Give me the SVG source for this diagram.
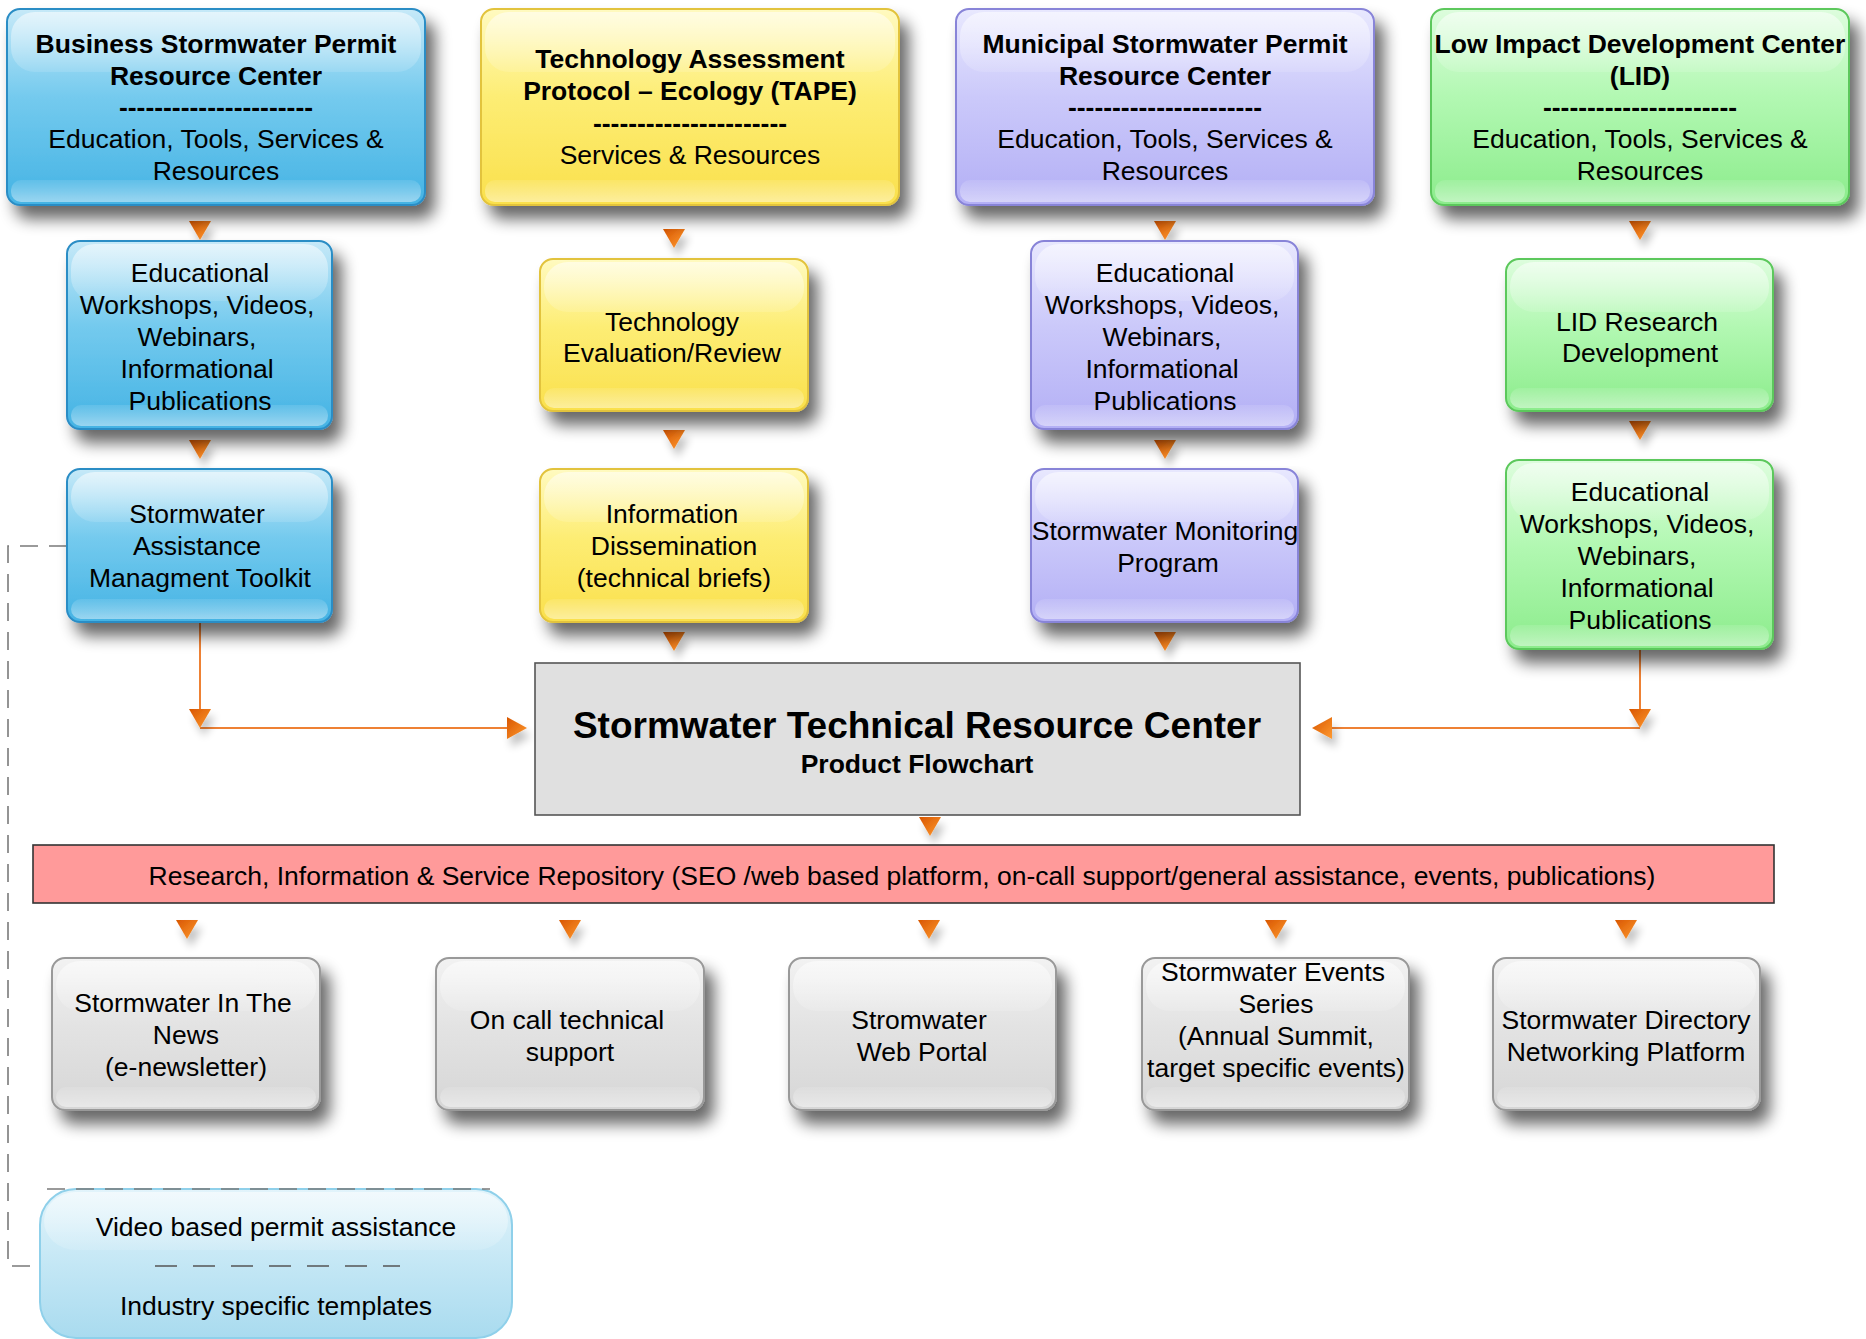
<svg xmlns="http://www.w3.org/2000/svg" xmlns:xlink="http://www.w3.org/1999/xlink" width="1866" height="1339" viewBox="0 0 1866 1339">
<defs>
<style>
.t{font-family:"Liberation Sans",Arial,sans-serif;font-size:26.5px;text-anchor:middle;fill:#000}
.b{font-weight:bold}
.blue{fill:url(#gBlue);stroke:#2C8DC5;stroke-width:2}
.yel{fill:url(#gYel);stroke:#E2C33C;stroke-width:2}
.pur{fill:url(#gPur);stroke:#8884D8;stroke-width:2}
.grn{fill:url(#gGrn);stroke:#5CC85C;stroke-width:2}
.gry{fill:url(#gGry);stroke:#999;stroke-width:2}
.lb{fill:url(#gLb);stroke:#8FD0EA;stroke-width:2}
.gl{fill:url(#gGloss)}
.bd{fill:url(#gBand)}
.con{fill:none;stroke:#EE8134;stroke-width:2}
.dash{fill:none;stroke:#7A7A7A;stroke-width:1.6;stroke-dasharray:18 11}
.ah{fill:url(#gArr)}
</style>
<linearGradient id="gBlue" x1="0" y1="0" x2="0" y2="1"><stop offset="0" stop-color="#C6E9F8"/><stop offset="0.45" stop-color="#74CAEE"/><stop offset="1" stop-color="#44B3E4"/></linearGradient>
<linearGradient id="gYel" x1="0" y1="0" x2="0" y2="1"><stop offset="0" stop-color="#FFFAC0"/><stop offset="0.45" stop-color="#FDED74"/><stop offset="1" stop-color="#FAE04C"/></linearGradient>
<linearGradient id="gPur" x1="0" y1="0" x2="0" y2="1"><stop offset="0" stop-color="#E8E8FE"/><stop offset="0.45" stop-color="#CBC9FA"/><stop offset="1" stop-color="#B3AFF5"/></linearGradient>
<linearGradient id="gGrn" x1="0" y1="0" x2="0" y2="1"><stop offset="0" stop-color="#DDFDDD"/><stop offset="0.45" stop-color="#B2F8B2"/><stop offset="1" stop-color="#8CEC8C"/></linearGradient>
<linearGradient id="gGry" x1="0" y1="0" x2="0" y2="1"><stop offset="0" stop-color="#F2F2F2"/><stop offset="0.45" stop-color="#E3E3E3"/><stop offset="1" stop-color="#D6D6D6"/></linearGradient>
<linearGradient id="gLb" x1="0" y1="0" x2="0" y2="1"><stop offset="0" stop-color="#E2F4FB"/><stop offset="0.5" stop-color="#C4E7F5"/><stop offset="1" stop-color="#A9DBEF"/></linearGradient>
<linearGradient id="gGloss" x1="0" y1="0" x2="0" y2="1"><stop offset="0" stop-color="#fff" stop-opacity="0.55"/><stop offset="1" stop-color="#fff" stop-opacity="0.12"/></linearGradient>
<linearGradient id="gBand" x1="0" y1="0" x2="0" y2="1"><stop offset="0" stop-color="#fff" stop-opacity="0.1"/><stop offset="1" stop-color="#fff" stop-opacity="0.45"/></linearGradient>
<linearGradient id="gArr" x1="0" y1="0" x2="1" y2="1"><stop offset="0" stop-color="#D85600"/><stop offset="1" stop-color="#FF9A30"/></linearGradient>
<filter id="sh" x="-10%" y="-10%" width="130%" height="140%"><feGaussianBlur in="SourceAlpha" stdDeviation="8"/><feOffset dx="9" dy="13"/><feComponentTransfer><feFuncA type="linear" slope="0.6"/></feComponentTransfer><feMerge><feMergeNode/><feMergeNode in="SourceGraphic"/></feMerge></filter>
<filter id="ash" x="-60%" y="-60%" width="260%" height="260%"><feGaussianBlur in="SourceAlpha" stdDeviation="4"/><feOffset dx="4" dy="8"/><feComponentTransfer><feFuncA type="linear" slope="0.25"/></feComponentTransfer><feMerge><feMergeNode/><feMergeNode in="SourceGraphic"/></feMerge></filter>
<path id="tri" d="M-11,0 L11,0 L0,19 Z" class="ah" filter="url(#ash)"/>
</defs>
<rect width="1866" height="1339" fill="#fff"/>

<g id="connectors">
<path class="dash" d="M67,546 L8,546 L8,1266 L40,1266"/>
<path class="con" d="M200,622 L200,712"/>
<path class="con" d="M200,728 L510,728"/>
<path class="con" d="M1640,649 L1640,712"/>
<path class="con" d="M1640,728 L1330,728"/>
<path class="ah" d="M189,709 L211,709 L200,728 Z" filter="url(#ash)"/>
<path class="ah" d="M507,717 L527,728 L507,739 Z" filter="url(#ash)"/>
<path class="ah" d="M1629,709 L1651,709 L1640,728 Z" filter="url(#ash)"/>
<path class="ah" d="M1332,717 L1312,728 L1332,739 Z" filter="url(#ash)"/>
<use xlink:href="#tri" x="200" y="221"/>
<use xlink:href="#tri" x="200" y="440"/>
<use xlink:href="#tri" x="674" y="229"/>
<use xlink:href="#tri" x="674" y="430"/>
<use xlink:href="#tri" x="674" y="632"/>
<use xlink:href="#tri" x="1165" y="221"/>
<use xlink:href="#tri" x="1165" y="440"/>
<use xlink:href="#tri" x="1165" y="632"/>
<use xlink:href="#tri" x="1640" y="221"/>
<use xlink:href="#tri" x="1640" y="421"/>
<use xlink:href="#tri" x="930" y="817"/>
<use xlink:href="#tri" x="187" y="920"/>
<use xlink:href="#tri" x="570" y="920"/>
<use xlink:href="#tri" x="929" y="920"/>
<use xlink:href="#tri" x="1276" y="920"/>
<use xlink:href="#tri" x="1626" y="920"/>
</g>

<g id="n1">
<rect class="blue" x="7" y="9" width="418" height="196" rx="13" filter="url(#sh)"/>
<rect class="gl" x="11" y="12" width="410" height="60" rx="24"/>
<rect class="bd" x="11" y="180" width="410" height="22" rx="10"/>
<text class="t b" x="216" y="53">Business Stormwater Permit</text>
<text class="t b" x="216" y="85">Resource Center</text>
<text class="t b" x="216" y="116">----------------------</text>
<text class="t" x="216" y="148">Education, Tools, Services &amp;</text>
<text class="t" x="216" y="180">Resources</text>
</g>
<g id="n2">
<rect class="yel" x="481" y="9" width="418" height="196" rx="13" filter="url(#sh)"/>
<rect class="gl" x="485" y="12" width="410" height="60" rx="24"/>
<rect class="bd" x="485" y="180" width="410" height="22" rx="10"/>
<text class="t b" x="690" y="68">Technology Assessment</text>
<text class="t b" x="690" y="100">Protocol – Ecology (TAPE)</text>
<text class="t b" x="690" y="132">----------------------</text>
<text class="t" x="690" y="164">Services &amp; Resources</text>
</g>
<g id="n3">
<rect class="pur" x="956" y="9" width="418" height="196" rx="13" filter="url(#sh)"/>
<rect class="gl" x="960" y="12" width="410" height="60" rx="24"/>
<rect class="bd" x="960" y="180" width="410" height="22" rx="10"/>
<text class="t b" x="1165" y="53">Municipal Stormwater Permit</text>
<text class="t b" x="1165" y="85">Resource Center</text>
<text class="t b" x="1165" y="116">----------------------</text>
<text class="t" x="1165" y="148">Education, Tools, Services &amp;</text>
<text class="t" x="1165" y="180">Resources</text>
</g>
<g id="n4">
<rect class="grn" x="1431" y="9" width="418" height="196" rx="13" filter="url(#sh)"/>
<rect class="gl" x="1435" y="12" width="410" height="60" rx="24"/>
<rect class="bd" x="1435" y="180" width="410" height="22" rx="10"/>
<text class="t b" x="1640" y="53">Low Impact Development Center</text>
<text class="t b" x="1640" y="85">(LID)</text>
<text class="t b" x="1640" y="116">----------------------</text>
<text class="t" x="1640" y="148">Education, Tools, Services &amp;</text>
<text class="t" x="1640" y="180">Resources</text>
</g>

<g id="n5">
<rect class="blue" x="67" y="241" width="265" height="188" rx="13" filter="url(#sh)"/>
<rect class="gl" x="71" y="244" width="257" height="57" rx="24"/>
<rect class="bd" x="71" y="405" width="257" height="21" rx="10"/>
<text class="t" x="200" y="282">Educational</text>
<text class="t" x="197" y="314">Workshops, Videos,</text>
<text class="t" x="197" y="346">Webinars,</text>
<text class="t" x="197" y="378">Informational</text>
<text class="t" x="200" y="410">Publications</text>
</g>
<g id="n6">
<rect class="yel" x="540" y="259" width="268" height="152" rx="13" filter="url(#sh)"/>
<rect class="gl" x="544" y="262" width="260" height="50" rx="24"/>
<rect class="bd" x="544" y="388" width="260" height="20" rx="10"/>
<text class="t" x="672" y="331">Technology</text>
<text class="t" x="672" y="362">Evaluation/Review</text>
</g>
<g id="n7">
<rect class="pur" x="1031" y="241" width="267" height="188" rx="13" filter="url(#sh)"/>
<rect class="gl" x="1035" y="244" width="259" height="57" rx="24"/>
<rect class="bd" x="1035" y="405" width="259" height="21" rx="10"/>
<text class="t" x="1165" y="282">Educational</text>
<text class="t" x="1162" y="314">Workshops, Videos,</text>
<text class="t" x="1162" y="346">Webinars,</text>
<text class="t" x="1162" y="378">Informational</text>
<text class="t" x="1165" y="410">Publications</text>
</g>
<g id="n8">
<rect class="grn" x="1506" y="259" width="267" height="152" rx="13" filter="url(#sh)"/>
<rect class="gl" x="1510" y="262" width="259" height="50" rx="24"/>
<rect class="bd" x="1510" y="388" width="259" height="20" rx="10"/>
<text class="t" x="1637" y="331">LID Research</text>
<text class="t" x="1640" y="362">Development</text>
</g>

<g id="n9">
<rect class="blue" x="67" y="469" width="265" height="153" rx="13" filter="url(#sh)"/>
<rect class="gl" x="71" y="472" width="257" height="50" rx="24"/>
<rect class="bd" x="71" y="599" width="257" height="20" rx="10"/>
<text class="t" x="197" y="523">Stormwater</text>
<text class="t" x="197" y="555">Assistance</text>
<text class="t" x="200" y="587">Managment Toolkit</text>
</g>
<g id="n10">
<rect class="yel" x="540" y="469" width="268" height="153" rx="13" filter="url(#sh)"/>
<rect class="gl" x="544" y="472" width="260" height="50" rx="24"/>
<rect class="bd" x="544" y="599" width="260" height="20" rx="10"/>
<text class="t" x="672" y="523">Information</text>
<text class="t" x="674" y="555">Dissemination</text>
<text class="t" x="674" y="587">(technical briefs)</text>
</g>
<g id="n11">
<rect class="pur" x="1031" y="469" width="267" height="153" rx="13" filter="url(#sh)"/>
<rect class="gl" x="1035" y="472" width="259" height="50" rx="24"/>
<rect class="bd" x="1035" y="599" width="259" height="20" rx="10"/>
<text class="t" x="1165" y="540">Stormwater Monitoring</text>
<text class="t" x="1168" y="572">Program</text>
</g>
<g id="n12">
<rect class="grn" x="1506" y="460" width="267" height="189" rx="13" filter="url(#sh)"/>
<rect class="gl" x="1510" y="463" width="259" height="57" rx="24"/>
<rect class="bd" x="1510" y="625" width="259" height="21" rx="10"/>
<text class="t" x="1640" y="501">Educational</text>
<text class="t" x="1637" y="533">Workshops, Videos,</text>
<text class="t" x="1637" y="565">Webinars,</text>
<text class="t" x="1637" y="597">Informational</text>
<text class="t" x="1640" y="629">Publications</text>
</g>

<g id="center">
<rect x="535" y="663" width="765" height="152" fill="#E0E0E0" stroke="#555" stroke-width="1.6"/>
<text class="t b" x="917" y="738" style="font-size:37px">Stormwater Technical Resource Center</text>
<text class="t b" x="917" y="773">Product Flowchart</text>
</g>

<g id="repository">
<rect x="33" y="845" width="1741" height="58" fill="#FF9A9A" stroke="#333" stroke-width="1.6"/>
<text class="t" x="902" y="885">Research, Information &amp; Service Repository (SEO /web based platform, on-call support/general assistance, events, publications)</text>
</g>

<g id="b1">
<rect class="gry" x="52" y="958" width="268" height="152" rx="13" filter="url(#sh)"/>
<rect class="gl" x="56" y="961" width="260" height="50" rx="24"/>
<rect class="bd" x="56" y="1087" width="260" height="20" rx="10"/>
<text class="t" x="183" y="1012">Stormwater In The</text>
<text class="t" x="186" y="1044">News</text>
<text class="t" x="186" y="1076">(e-newsletter)</text>
</g>
<g id="b2">
<rect class="gry" x="436" y="958" width="268" height="152" rx="13" filter="url(#sh)"/>
<rect class="gl" x="440" y="961" width="260" height="50" rx="24"/>
<rect class="bd" x="440" y="1087" width="260" height="20" rx="10"/>
<text class="t" x="567" y="1029">On call technical</text>
<text class="t" x="570" y="1061">support</text>
</g>
<g id="b3">
<rect class="gry" x="789" y="958" width="267" height="152" rx="13" filter="url(#sh)"/>
<rect class="gl" x="793" y="961" width="259" height="50" rx="24"/>
<rect class="bd" x="793" y="1087" width="259" height="20" rx="10"/>
<text class="t" x="919" y="1029">Stromwater</text>
<text class="t" x="922" y="1061">Web Portal</text>
</g>
<g id="b4">
<rect class="gry" x="1142" y="958" width="267" height="152" rx="13" filter="url(#sh)"/>
<rect class="gl" x="1146" y="961" width="259" height="50" rx="24"/>
<rect class="bd" x="1146" y="1087" width="259" height="20" rx="10"/>
<text class="t" x="1273" y="981">Stormwater Events</text>
<text class="t" x="1276" y="1013">Series</text>
<text class="t" x="1276" y="1045">(Annual Summit,</text>
<text class="t" x="1276" y="1077">target specific events)</text>
</g>
<g id="b5">
<rect class="gry" x="1493" y="958" width="267" height="152" rx="13" filter="url(#sh)"/>
<rect class="gl" x="1497" y="961" width="259" height="50" rx="24"/>
<rect class="bd" x="1497" y="1087" width="259" height="20" rx="10"/>
<text class="t" x="1626" y="1029">Stormwater Directory</text>
<text class="t" x="1626" y="1061">Networking Platform</text>
</g>

<g id="video">
<rect class="lb" x="40" y="1189" width="472" height="149" rx="36"/>
<rect class="gl" x="44" y="1192" width="464" height="58" rx="32"/>
<path class="dash" d="M47,1189 L490,1189"/>
<path d="M155,1266 L400,1266" fill="none" stroke="#555" stroke-width="1.6" stroke-dasharray="22 16"/>
<text class="t" x="276" y="1236">Video based permit assistance</text>
<text class="t" x="276" y="1315">Industry specific templates</text>
</g>
</svg>
